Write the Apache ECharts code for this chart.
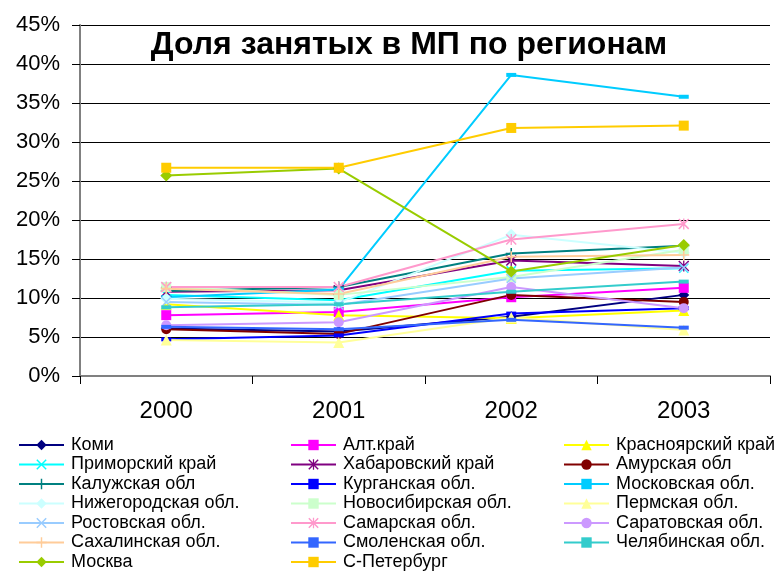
<!DOCTYPE html>
<html>
<head>
<meta charset="utf-8">
<script src="https://cdn.jsdelivr.net/npm/echarts@6/dist/echarts.min.js"></script>
<style>
html,body{margin:0;padding:0;background:#fff;}
#chart{width:780px;height:583px;}
</style>
</head>
<body>
<div id="chart"></div>
<script>
// годы
var years = ['2000', '2001', '2002', '2003'];
var yTicks = [0, 5, 10, 15, 20, 25, 30, 35, 40, 45];

// доля занятых, %
var komi      = [6.1, 5.7, 7.6, 10.4];
var altKrai   = [7.8, 8.2, 10.1, 11.3];
var krasn     = [9.2, 7.8, 7.4, 8.4];
var primor    = [10.4, 9.7, 13.5, 13.8];
var khabar    = [10.8, 11.0, 14.8, 14.1];
var amur      = [6.0, 5.4, 10.4, 9.5];
var kaluga    = [10.9, 11.4, 15.7, 16.7];
var kurgan    = [4.7, 5.2, 8.0, 8.7];
var moskObl   = [10.1, 11.1, 38.6, 35.8];
var nizhn     = [9.9, 9.4, 18.1, 15.8];
var novosib   = [11.4, 10.4, 12.7, 16.2];
var perm      = [4.6, 4.3, 7.5, 5.9];
var rostov    = [9.5, 9.1, 12.5, 13.9];
var samara    = [11.4, 11.4, 17.5, 19.5];
var saratov   = [6.5, 6.9, 11.4, 8.7];
var sakhalin  = [11.2, 10.5, 15.3, 15.5];
var smolensk  = [6.3, 6.0, 7.2, 6.2];
var chelyab   = [8.8, 9.2, 10.8, 12.1];
var moskva    = [25.7, 26.6, 13.4, 16.8];
var spb       = [26.7, 26.7, 31.8, 32.1];

var X = 'path://M0,1L1,0L5,4L9,0L10,1L6,5L10,9L9,10L5,6L1,10L0,9L4,5Z';
var PLUS = 'path://M4.3,0H5.7V4.3H10V5.7H5.7V10H4.3V5.7H0V4.3H4.3Z';
var STAR = 'path://M0,1L1,0L5,4L9,0L10,1L6,5L10,9L9,10L5,6L1,10L0,9L4,5ZM4.4,0H5.6V10H4.4Z';

var list = [
    ['Коми', komi, '#000080', 'diamond', 11],
    ['Алт.край', altKrai, '#FF00FF', 'rect', 10],
    ['Красноярский край', krasn, '#FFFF00', 'triangle', 11],
    ['Приморский край', primor, '#00FFFF', X, 10],
    ['Хабаровский край', khabar, '#800080', STAR, 11],
    ['Амурская обл', amur, '#800000', 'circle', 10],
    ['Калужская обл', kaluga, '#008080', PLUS, 11],
    ['Курганская обл.', kurgan, '#0000FF', 'rect', [10, 4]],
    ['Московская обл.', moskObl, '#00CCFF', 'rect', [10, 4]],
    ['Нижегородская обл.', nizhn, '#CCFFFF', 'diamond', 12],
    ['Новосибирская обл.', novosib, '#CCFFCC', 'rect', 10],
    ['Пермская обл.', perm, '#FFFF99', 'triangle', 11],
    ['Ростовская обл.', rostov, '#99CCFF', X, 10],
    ['Самарская обл.', samara, '#FF99CC', STAR, 11],
    ['Саратовская обл.', saratov, '#CC99FF', 'circle', 10],
    ['Сахалинская обл.', sakhalin, '#FFCC99', PLUS, 11],
    ['Смоленская обл.', smolensk, '#3366FF', 'rect', [10, 4]],
    ['Челябинская обл.', chelyab, '#33CCCC', 'rect', [10, 4]],
    ['Москва', moskva, '#99CC00', 'diamond', 12],
    ['С-Петербург', spb, '#FFCC00', 'rect', 10]
];

var series = [];
var col = [[], [], []];
for (var i = 0; i < list.length; i++) {
    series.push({
        name: list[i][0],
        type: 'line',
        data: list[i][1],
        symbol: list[i][3],
        symbolSize: list[i][4],
        showAllSymbol: true,
        lineStyle: {color: list[i][2], width: 2},
        itemStyle: {color: list[i][2]}
    });
    col[i % 3].push(list[i][0]);
}

function legendAt(left, names) {
    return {
        orient: 'vertical',
        left: left,
        top: 436,
        padding: 0,
        itemWidth: 45,
        itemHeight: 13,
        itemGap: 1.5,
        data: names,
        textStyle: {fontFamily: 'Liberation Sans', fontSize: 18, color: '#000', padding: [0, 0, 0, 2]}
    };
}

var myChart = echarts.init(document.getElementById('chart'));
var option = {
    animation: false,
    title: {
        text: 'Доля занятых в МП по регионам',
        left: 404,
        textAlign: 'center',
        top: 24,
        textStyle: {fontFamily: 'Liberation Sans', fontSize: 32, fontWeight: 'bold', color: '#000'}
    },
    legend: [legendAt(18, col[0]), legendAt(290, col[1]), legendAt(563, col[2])],
    grid: {left: 80, right: 10, top: 25, bottom: 207},
    xAxis: {
        type: 'category',
        data: years,
        boundaryGap: true,
        axisLine: {lineStyle: {color: '#808080', width: 2}},
        axisTick: {show: true, length: 8, interval: 0, lineStyle: {color: '#000'}},
        axisLabel: {fontFamily: 'Liberation Sans', fontSize: 24, color: '#000', margin: 23}
    },
    yAxis: {
        type: 'value',
        min: yTicks[0],
        max: yTicks[yTicks.length - 1],
        interval: 5,
        axisLine: {show: true, lineStyle: {color: '#808080', width: 2}},
        axisTick: {show: true, length: 8, lineStyle: {color: '#000'}},
        axisLabel: {fontFamily: 'Liberation Sans', fontSize: 22, color: '#000', margin: 20, formatter: '{value}%'},
        splitLine: {lineStyle: {color: '#000', width: 1}}
    },
    series: series
};
myChart.setOption(option);
</script>
</body>
</html>
